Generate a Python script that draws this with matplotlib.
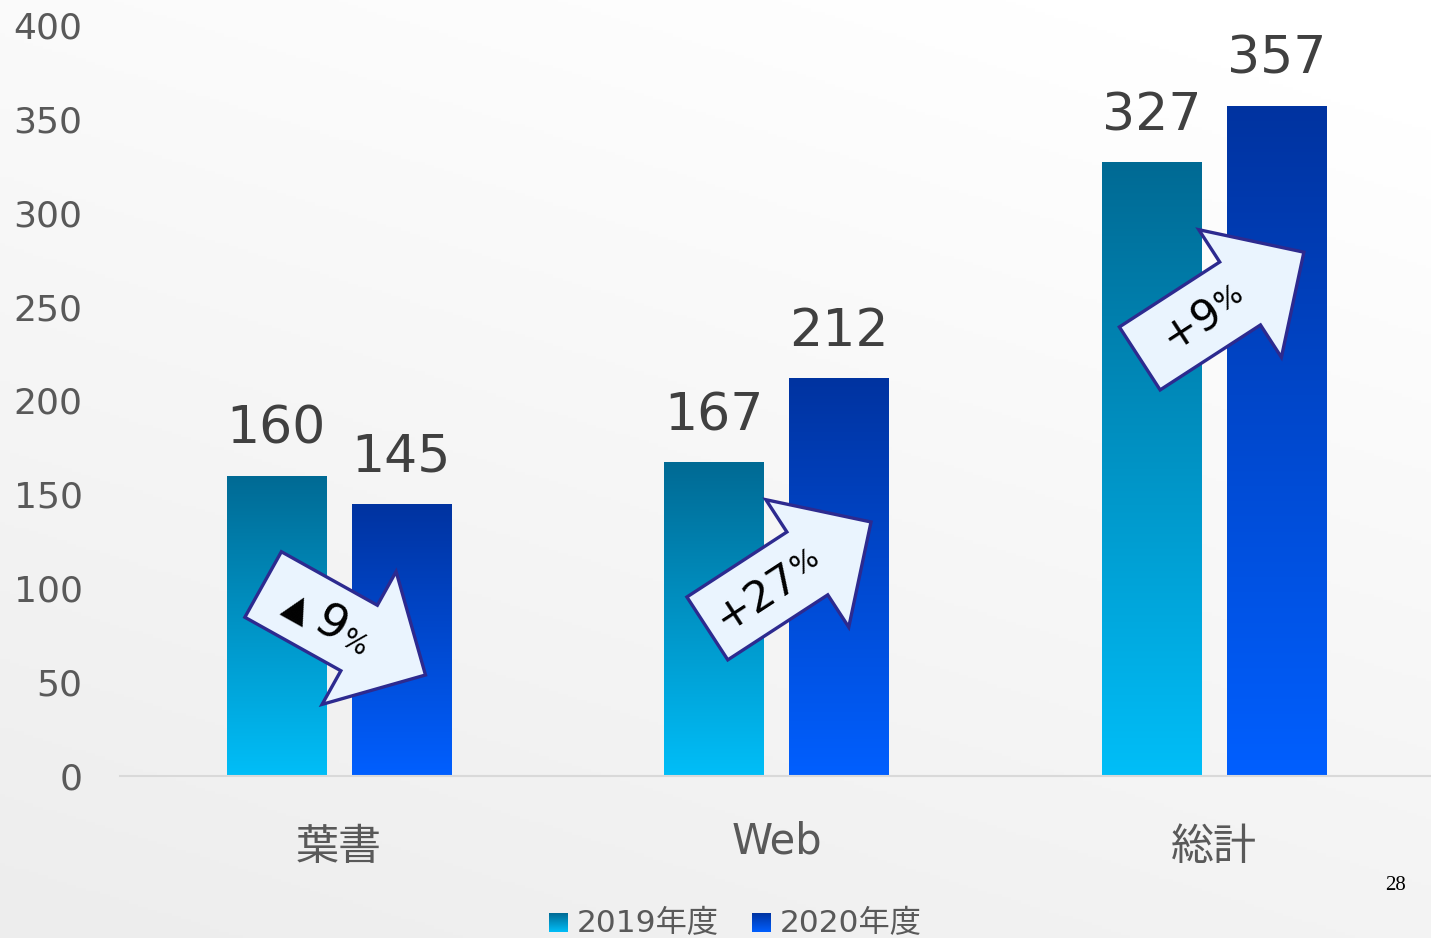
import numpy as np
import matplotlib
matplotlib.use("Agg")
import matplotlib.pyplot as plt
from matplotlib.colors import LinearSegmentedColormap
from matplotlib.patches import Polygon
from matplotlib.transforms import IdentityTransform, ScaledTranslation

# データ
categories = ["葉書", "Web", "総計"]
series_names = ["2019年度", "2020年度"]
values_2019 = [160, 167, 327]
values_2020 = [145, 212, 357]
y_ticks = [0, 50, 100, 150, 200, 250, 300, 350, 400]

plt.rcParams['font.family'] = ['DejaVu Sans', 'Noto Sans CJK JP']

W, H = 1431, 938
fig = plt.figure(figsize=(W / 100, H / 100), dpi=100)

# 背景のグラデーション
bg = fig.add_axes([0, 0, 1, 1], zorder=-10)
xx, yy = np.meshgrid(np.linspace(0, 1, 300), np.linspace(0, 1, 300))
g = np.clip(0.35 * xx + 0.75 * (1 - yy), 0, 1)
bg.imshow(g, cmap=LinearSegmentedColormap.from_list("bg", ["#EDEDED", "#FFFFFF"]),
          aspect='auto', extent=[0, 1, 0, 1])
bg.axis('off')

ax = fig.add_axes([120 / W, 162 / H, 1313 / W, 751 / H])
ax.patch.set_alpha(0)

cmaps = [
    LinearSegmentedColormap.from_list("c19", ["#006A94", "#00BEF8"]),
    LinearSegmentedColormap.from_list("c20", ["#0033A0", "#005FFF"]),
]
grad = np.linspace(0, 1, 256).reshape(-1, 1)

x = np.arange(len(categories))
width = 0.227
offsets = [-0.143, 0.143]

for vals, off, cm in zip([values_2019, values_2020], offsets, cmaps):
    bars = ax.bar(x + off, vals, width, color='none', edgecolor='none', zorder=2)
    for rect, v in zip(bars, vals):
        x0 = rect.get_x()
        im = ax.imshow(grad, cmap=cm, aspect='auto', zorder=2,
                       extent=[x0, x0 + rect.get_width(), 0, v])
        im.set_clip_path(rect)
        ax.annotate(str(v), (rect.get_x() + rect.get_width() / 2, v),
                    xytext=(0, 23), textcoords='offset points',
                    ha='center', va='baseline', fontsize=37.5, color='#404040')

ax.set_xlim(-0.5, len(categories) - 0.5)
ax.set_ylim(0, 400)
ax.set_yticks(y_ticks)
ax.tick_params(axis='y', length=0, pad=27, labelsize=26, labelcolor='#595959')
ax.set_xticks(x)
ax.set_xticklabels(categories)
ax.tick_params(axis='x', length=0, pad=32, labelsize=30, labelcolor='#595959')
for lbl in ax.get_xticklabels():
    if not lbl.get_text().isascii():
        lbl.set_fontsize(31)
        lbl.set_transform(lbl.get_transform() +
                          ScaledTranslation(0, -7 / 100, fig.dpi_scale_trans))
for s in ['top', 'right', 'left']:
    ax.spines[s].set_visible(False)
ax.spines['bottom'].set_color('#D9D9D9')
ax.spines['bottom'].set_linewidth(1.5)


def pct_label(a, b):
    p = round((b - a) / a * 100)
    return ("▲", str(abs(p))) if p < 0 else ("+", str(p))


def draw_arrow(tail, tip, parts):
    p0 = ax.transData.transform(tail)
    p1 = ax.transData.transform(tip)
    d = p1 - p0
    L = np.hypot(*d)
    u = d / L
    n = np.array([-u[1], u[0]])
    sw, hw, hl = 37.5, 76, 76
    b = p0 + u * (L - hl)
    pts = [p0 + n * sw, b + n * sw, b + n * hw, p1, b - n * hw, b - n * sw, p0 - n * sw]
    fig.add_artist(Polygon(pts, closed=True, transform=IdentityTransform(),
                           facecolor='#EAF4FE', edgecolor='#2D2A8F', linewidth=2.4,
                           joinstyle='miter', zorder=5))
    ang = np.degrees(np.arctan2(u[1], u[0]))
    for s, size, t, nn in parts:
        pos = p0 + u * t + n * nn
        fig.text(pos[0], pos[1], s, transform=IdentityTransform(), rotation=ang,
                 rotation_mode='anchor', ha='center', va='center', fontsize=size,
                 color='black', zorder=6)


# 増減の矢印
sign, num = pct_label(values_2019[0], values_2020[0])
draw_arrow((-0.173, 102), (0.198, 53.8),
           [(sign, 25, 42, -4), (num, 34, 79, -3), ("%", 20, 108, -7)])
sign, num = pct_label(values_2019[1], values_2020[1])
draw_arrow((0.842, 78.6), (1.216, 135.3),
           [(sign + num, 31, 58, -1), ("%", 21, 117, 2)])
sign, num = pct_label(values_2019[2], values_2020[2])
draw_arrow((1.830, 222.4), (2.205, 279),
           [(sign + num, 31, 62, 0), ("%", 21, 107, 2)])

# 凡例
for name, cm, lx in zip(series_names, cmaps, [549, 752]):
    la = fig.add_axes([lx / W, (H - 932) / H, 19 / W, 19 / H])
    la.imshow(grad, cmap=cm, aspect='auto')
    la.axis('off')
    fig.text((lx + 28) / W, (H - 923) / H, name, ha='left', va='center',
             fontsize=22.5, color='#595959')

# ページ番号
fig.text(1395 / W, (H - 885) / H, "28", ha='center', va='center',
         family='Liberation Serif', fontsize=15, color='black')

fig.savefig("out.png", dpi=100)
